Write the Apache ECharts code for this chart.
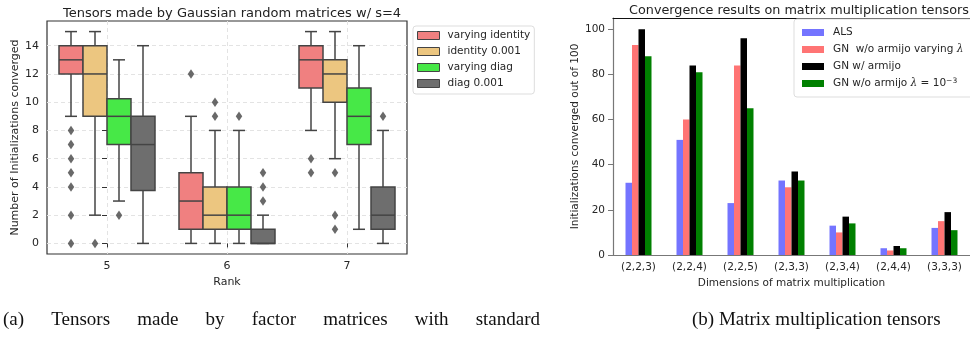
<!DOCTYPE html>
<html>
<head>
<meta charset="utf-8">
<script src="https://cdn.jsdelivr.net/npm/echarts@6/dist/echarts.min.js"></script>
<style>
  html, body { margin: 0; padding: 0; background: #fff; }
  #chart { width: 970px; height: 337px; }
</style>
</head>
<body>
<div id="chart"></div>
<script>
// ---- left panel: box plots per rank ----
const ranks = ['5', '6', '7'];
const boxNames = ['varying identity', 'identity 0.001', 'varying diag', 'diag 0.001'];
// [low whisker, q1, median, q3, high whisker] for rank 5, 6, 7
const varyingIdentity = [[9, 12, 13, 14, 15], [0, 1, 3, 5, 9], [8, 11, 13, 14, 15]];
const identity001 = [[2, 9, 12, 14, 15], [0, 1, 2, 4, 8], [6, 10, 12, 13, 15]];
const varyingDiag = [[3, 7, 9, 10.25, 13], [0, 1, 2, 4, 8], [1, 7, 9, 11, 14]];
const diag001 = [[0, 3.75, 7, 9, 14], [0, 0, 0, 1, 2], [0, 1, 2, 4, 8]];
// outliers for rank 5, 6, 7
const varyingIdentityOut = [[8, 7, 6, 5, 4, 2, 0], [12], [6, 5]];
const identity001Out = [[0], [10, 9], [5, 2, 1]];
const varyingDiagOut = [[2], [9], []];
const diag001Out = [[], [5, 4, 3], [9]];
const rankTicks = [0, 1, 2];
const countTicks = [0, 2, 4, 6, 8, 10, 12, 14];

// ---- right panel: bars per matrix multiplication size ----
const dims = ['(2,2,3)', '(2,2,4)', '(2,2,5)', '(2,3,3)', '(2,3,4)', '(2,4,4)', '(3,3,3)'];
const barNames = ['ALS', 'GN  w/o armijo varying λ', 'GN w/ armijo', 'GN w/o armijo λ=1e-3'];
const als = [32, 51, 23, 33, 13, 3, 12];
const gnVarying = [93, 60, 84, 30, 10, 2, 15];
const gnArmijo = [100, 84, 96, 37, 17, 4, 19];
const gnFixed = [88, 81, 65, 33, 14, 3, 11];
const pctTicks = [0, 20, 40, 60, 80, 100];

// captions under the panels
const captionA = ['(a)', 'Tensors', 'made', 'by', 'factor', 'matrices', 'with', 'standard'];
const captionB = '(b) Matrix multiplication tensors';

const boxColors = ['#f08080', '#ecc680', '#47e847', '#6e6e6e'];
const barColors = ['#7474ff', '#ff7474', '#000000', '#008000'];
const EDGE = '#444';
const BOX_W = 0.2;
const offsets = [-0.3, -0.1, 0.1, 0.3];
const FONT = 'DejaVu Sans';
const CAPTION_FONT = '19px "Liberation Serif"';

function boxSeries(name, stats, color, offset) {
    return {
        type: 'custom',
        name: name,
        xAxisIndex: 0,
        yAxisIndex: 0,
        itemStyle: {color: color, borderColor: EDGE, borderWidth: 1},
        data: stats.map((s, i) => [i + offset].concat(s)),
        encode: {x: 0, y: [1, 2, 3, 4, 5]},
        renderItem: function (params, api) {
            const x = api.value(0);
            const px = v => api.coord([v, 0])[0];
            const py = k => api.coord([x, api.value(k)])[1];
            const left = px(x - BOX_W / 2), right = px(x + BOX_W / 2), cx = px(x);
            const capL = px(x - BOX_W / 4), capR = px(x + BOX_W / 4);
            const yLow = py(1), yQ1 = py(2), yMed = py(3), yQ3 = py(4), yHigh = py(5);
            const line = {stroke: EDGE, lineWidth: 1.5};
            return {
                type: 'group',
                children: [
                    {type: 'line', shape: {x1: cx, y1: yLow, x2: cx, y2: yQ1}, style: line},
                    {type: 'line', shape: {x1: cx, y1: yQ3, x2: cx, y2: yHigh}, style: line},
                    {type: 'line', shape: {x1: capL, y1: yLow, x2: capR, y2: yLow}, style: line},
                    {type: 'line', shape: {x1: capL, y1: yHigh, x2: capR, y2: yHigh}, style: line},
                    {type: 'rect', shape: {x: left, y: yQ3, width: right - left, height: yQ1 - yQ3},
                        style: {fill: color, stroke: EDGE, lineWidth: 1.5}},
                    {type: 'line', shape: {x1: left, y1: yMed, x2: right, y2: yMed}, style: line}
                ]
            };
        }
    };
}

function outlierSeries(name, outs, offset) {
    const pts = [];
    outs.forEach((vals, i) => vals.forEach(v => pts.push([i + offset, v])));
    return {
        type: 'scatter',
        name: name + ' outliers',
        xAxisIndex: 0,
        yAxisIndex: 0,
        symbol: 'diamond',
        symbolSize: [6.5, 9.5],
        itemStyle: {color: EDGE},
        silent: true,
        data: pts
    };
}

function barSeries(name, values, color) {
    return {
        type: 'bar',
        name: name,
        xAxisIndex: 1,
        yAxisIndex: 1,
        barWidth: 6.5,
        barGap: '0%',
        itemStyle: {color: color},
        data: values
    };
}

// spread the words of caption (a) across its justified line
function justifiedWords(words, x0, x1, top) {
    const ctx = document.createElement('canvas').getContext('2d');
    ctx.font = CAPTION_FONT;
    const widths = words.map(w => ctx.measureText(w).width);
    const total = widths.reduce((a, b) => a + b, 0);
    const gap = (x1 - x0 - total) / (words.length - 1);
    let x = x0;
    return words.map((w, i) => {
        const el = {type: 'text', left: x, top: top, style: {text: w, font: CAPTION_FONT, fill: '#111'}};
        x += widths[i] + gap;
        return el;
    });
}

const boxStats = [varyingIdentity, identity001, varyingDiag, diag001];
const boxOuts = [varyingIdentityOut, identity001Out, varyingDiagOut, diag001Out];
const barValues = [als, gnVarying, gnArmijo, gnFixed];

const series = [];
boxNames.forEach((n, i) => series.push(boxSeries(n, boxStats[i], boxColors[i], offsets[i])));
boxNames.forEach((n, i) => series.push(outlierSeries(n, boxOuts[i], offsets[i])));
barNames.forEach((n, i) => series.push(barSeries(n, barValues[i], barColors[i])));

const tickText = {fontFamily: FONT, fontSize: 11, color: '#262626'};
const tickTextR = {fontFamily: FONT, fontSize: 10.5, color: '#262626'};
const nameText = {fontFamily: FONT, fontSize: 11, color: '#262626'};

const chart = echarts.init(document.getElementById('chart'));
chart.setOption({
    animation: false,
    backgroundColor: '#fff',
    title: [{
        text: 'Tensors made by Gaussian random matrices w/ s=4',
        left: 227, top: 2, textAlign: 'center',
        textStyle: {fontFamily: FONT, fontSize: 13, fontWeight: 'normal', color: '#222'}
    }, {
        text: 'Convergence results on matrix multiplication tensors',
        left: 794, top: -1, textAlign: 'center',
        textStyle: {fontFamily: FONT, fontSize: 12.8, fontWeight: 'normal', color: '#222'}
    }],
    legend: [{
        data: boxNames,
        orient: 'vertical',
        left: 413, top: 26,
        icon: 'rect',
        itemWidth: 22, itemHeight: 8, itemGap: 3,
        itemStyle: {borderColor: EDGE, borderWidth: 1},
        padding: [3, 4, 4, 4],
        backgroundColor: '#fff',
        borderColor: '#ddd', borderWidth: 1, borderRadius: 3,
        textStyle: {fontFamily: FONT, fontSize: 10.5, color: '#262626', lineHeight: 13, padding: [0, 0, 0, 3]}
    }, {
        data: barNames,
        orient: 'vertical',
        left: 794, top: 19,
        icon: 'rect',
        itemWidth: 22, itemHeight: 7, itemGap: 4,
        itemStyle: {borderWidth: 0},
        padding: [7, 12, 6, 8],
        backgroundColor: '#fff',
        borderColor: '#ddd', borderWidth: 1, borderRadius: 3,
        formatter: function (name) {
            if (name === barNames[1]) return '{n|GN  w/o armijo varying }{i|λ}';
            if (name === barNames[3]) return '{n|GN w/o armijo }{i|λ}{n| = 10}{s|−3}';
            return '{n|' + name + '}';
        },
        textStyle: {
            fontFamily: FONT, fontSize: 10.5, color: '#262626', lineHeight: 13, padding: [0, 0, 0, 4],
            rich: {
                n: {fontFamily: FONT, fontSize: 10.5, color: '#262626', lineHeight: 13},
                i: {fontFamily: 'DejaVu Serif', fontStyle: 'italic', fontSize: 10.5, color: '#262626', lineHeight: 13},
                s: {fontFamily: FONT, fontSize: 7.5, color: '#262626', verticalAlign: 'top', lineHeight: 13, padding: [0, 0, 6, 0]}
            }
        }
    }],
    grid: [
        {left: 47, top: 21, width: 360, height: 233, show: true, borderColor: '#333', borderWidth: 1.2},
        {left: 613, top: 18, width: 363.5, height: 237}
    ],
    xAxis: [{
        gridIndex: 0,
        type: 'value',
        min: -0.5, max: 2.5,
        name: 'Rank', nameLocation: 'middle', nameGap: 20, nameTextStyle: nameText,
        axisLine: {show: false},
        axisTick: {customValues: rankTicks, length: 4, lineStyle: {color: '#333'}},
        axisLabel: Object.assign({customValues: rankTicks, margin: 7, formatter: v => ranks[Math.round(v)]}, tickText),
        splitLine: {show: true, lineStyle: {color: '#e3e3e3', type: [4, 3]}}
    }, {
        gridIndex: 1,
        type: 'category',
        data: dims,
        name: 'Dimensions of matrix multiplication', nameLocation: 'middle', nameGap: 20,
        nameTextStyle: {fontFamily: FONT, fontSize: 10.5, color: '#262626'},
        axisLine: {lineStyle: {color: '#777', width: 1.2}},
        axisTick: {alignWithLabel: true, length: 4, lineStyle: {color: '#777'}},
        axisLabel: Object.assign({margin: 7}, tickTextR),
        splitLine: {show: false}
    }, {
        gridIndex: 1,
        type: 'category',
        data: dims,
        position: 'top',
        axisLine: {lineStyle: {color: '#111', width: 1.2}},
        axisTick: {show: false},
        axisLabel: {show: false}
    }],
    yAxis: [{
        gridIndex: 0,
        type: 'value',
        min: -0.75, max: 15.75,
        name: 'Number of Initializations converged', nameLocation: 'middle', nameGap: 21,
        nameTextStyle: nameText,
        axisLine: {show: false},
        axisTick: {show: true, customValues: countTicks, length: 5, lineStyle: {color: '#333'}},
        axisLabel: Object.assign({customValues: countTicks, margin: 8}, tickText),
        splitLine: {show: true, lineStyle: {color: '#e3e3e3', type: [4, 3]}}
    }, {
        gridIndex: 1,
        type: 'value',
        min: 0, max: 105,
        name: 'Initializations converged out of 100', nameLocation: 'middle', nameGap: 30,
        nameTextStyle: {fontFamily: FONT, fontSize: 10.5, color: '#262626'},
        axisLine: {show: true, lineStyle: {color: '#777', width: 1.2}},
        axisTick: {show: true, customValues: pctTicks, length: 5, lineStyle: {color: '#777'}},
        axisLabel: Object.assign({customValues: pctTicks, margin: 8}, tickTextR),
        splitLine: {show: false}
    }],
    graphic: justifiedWords(captionA, 3, 540, 311).concat([{
        type: 'text', left: 692, top: 311,
        style: {text: captionB, font: CAPTION_FONT, fill: '#111'}
    }]),
    series: series
});
</script>
</body>
</html>
